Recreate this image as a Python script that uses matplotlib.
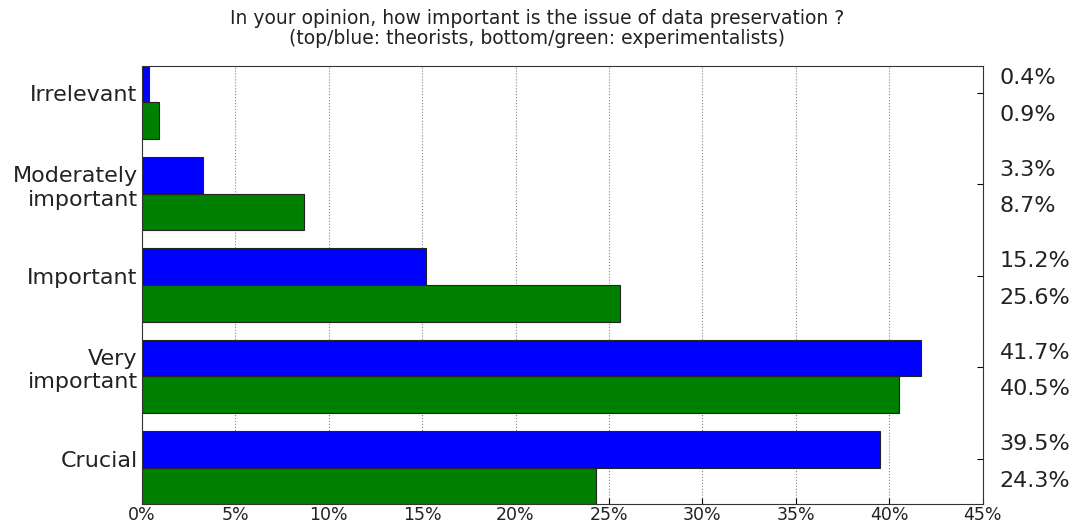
import numpy as np
import matplotlib
matplotlib.use("Agg")
import matplotlib.pyplot as plt
from matplotlib.ticker import FuncFormatter

# 下から順（Crucial が一番下）
categories = ["Crucial", "Very\nimportant", "Important", "Moderately\nimportant", "Irrelevant"]
theorists = [39.5, 41.7, 15.2, 3.3, 0.4]
experimentalists = [24.3, 40.5, 25.6, 8.7, 0.9]

fig = plt.figure(figsize=(10.74, 5.21), dpi=100)
ax = fig.add_axes([0.132, 0.032, 0.783, 0.842])

pos = np.arange(len(categories))
h = 0.4
ax.barh(pos, experimentalists, height=h, align="edge", color="g", edgecolor="#222222", linewidth=0.8)
ax.barh(pos + h, theorists, height=h, align="edge", color="b", edgecolor="#222222", linewidth=0.8)

ax.set_xlim(0, 45)
ax.set_ylim(0, len(categories) - 1 + 2 * h)
ax.set_xticks(np.arange(0, 46, 5))
ax.xaxis.set_major_formatter(FuncFormatter(lambda v, p: f"{v:.0f}%"))
ax.tick_params(axis="x", labelsize=12.5, direction="in", length=4, pad=1, labelcolor="#222222")
ax.set_yticks(pos + 0.5)
ax.set_yticklabels(categories, fontsize=16, color="#222222")
ax.tick_params(axis="y", direction="in", length=4, right=True, pad=3)
ax.xaxis.grid(True, linestyle=":", color="#888888", linewidth=0.8)
ax.set_axisbelow(True)
for s in ax.spines.values():
    s.set_color("#333333")

# 右側のパーセント表示
for i in range(len(categories)):
    ax.text(1.02, i + 0.66, f"{theorists[i]:.1f}%", transform=ax.get_yaxis_transform(),
            fontsize=16, va="center", ha="left", color="#222222")
    ax.text(1.02, i + 0.26, f"{experimentalists[i]:.1f}%", transform=ax.get_yaxis_transform(),
            fontsize=16, va="center", ha="left", color="#222222")

fig.text(0.5, 0.945, "In your opinion, how important is the issue of data preservation ?\n"
         "(top/blue: theorists, bottom/green: experimentalists)", fontsize=13.5,
         ha="center", va="center", color="#222222", linespacing=1.1)

fig.savefig("out.png", dpi=100)
